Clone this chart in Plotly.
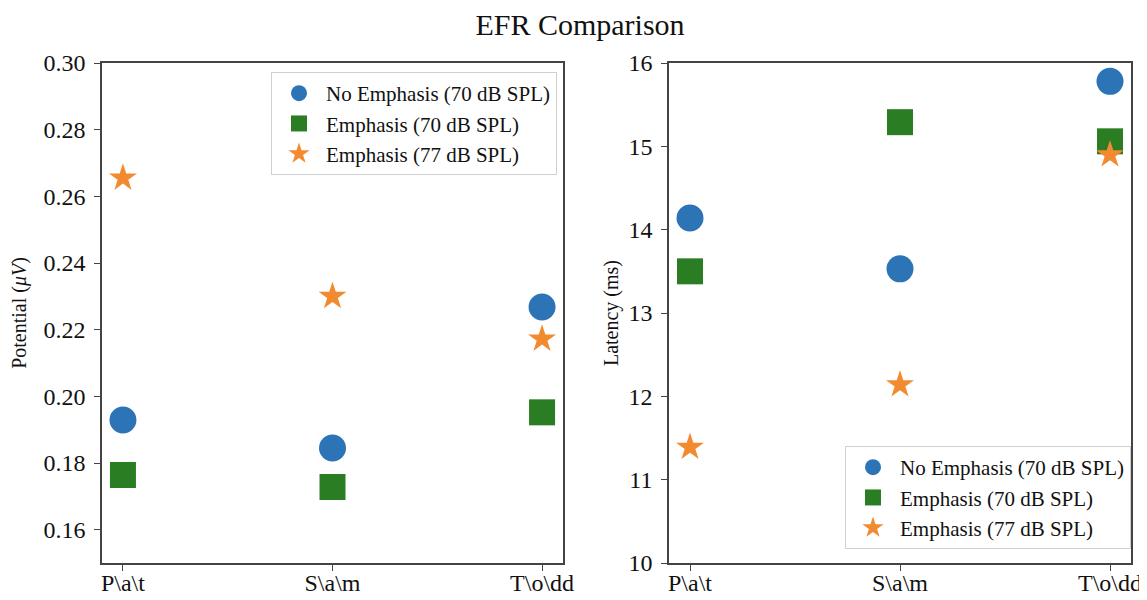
import plotly.graph_objects as go
from plotly.subplots import make_subplots

categories = ["P\\a\\t", "S\\a\\m", "T\\o\\dd"]
series_names = ["No Emphasis (70 dB SPL)", "Emphasis (70 dB SPL)", "Emphasis (77 dB SPL)"]

potential_no_emph_70 = [0.1929, 0.1845, 0.2268]
potential_emph_70 = [0.1764, 0.1728, 0.1952]
potential_emph_77 = [0.2655, 0.2300, 0.2172]

latency_no_emph_70 = [14.14, 13.53, 15.78]
latency_emph_70 = [13.50, 15.29, 15.06]
latency_emph_77 = [11.39, 12.14, 14.90]

colors = ["#2c74b5", "#2a7d22", "#f28b30"]
symbols = ["circle", "square", "star"]
sizes = [27, 26, 21]

FONT = "Liberation Serif, Times New Roman, serif"

# page body adds an 8px offset; figure is sized to fill the rest of the window
OFF = 8
W, H = 1147 - OFF, 600 - OFF


def px(x):
    return (x - OFF) / W


def py(y):
    return 1 - (y - OFF) / H


fig = make_subplots(rows=1, cols=2)

left_series = [potential_no_emph_70, potential_emph_70, potential_emph_77]
right_series = [latency_no_emph_70, latency_emph_70, latency_emph_77]

for i, (name, vals) in enumerate(zip(series_names, left_series)):
    fig.add_trace(go.Scatter(
        x=categories, y=vals, mode="markers", name=name,
        marker=dict(symbol=symbols[i], size=sizes[i], color=colors[i], line=dict(width=0)),
        legend="legend", legendgroup=f"l{i}", showlegend=True,
    ), row=1, col=1)

for i, (name, vals) in enumerate(zip(series_names, right_series)):
    fig.add_trace(go.Scatter(
        x=categories, y=vals, mode="markers", name=name,
        marker=dict(symbol=symbols[i], size=sizes[i], color=colors[i], line=dict(width=0)),
        legend="legend2", legendgroup=f"r{i}", showlegend=True,
    ), row=1, col=2)

axis_common = dict(
    showline=True, mirror=True, linecolor="#444444", linewidth=1.5,
    ticks="outside", ticklen=6, tickwidth=1.2, tickcolor="#444444",
    showgrid=False, zeroline=False, automargin=False,
    tickfont=dict(family=FONT, size=24, color="#111111"),
)

fig.update_xaxes(**axis_common, type="category", categoryorder="array",
                 categoryarray=categories, range=[-0.1, 2.1], ticklabelstandoff=-9)
fig.update_yaxes(**axis_common, ticklabelstandoff=4)

fig.update_xaxes(domain=[px(102), px(563)], row=1, col=1)
fig.update_xaxes(domain=[px(669), px(1131)], row=1, col=2)
fig.update_yaxes(domain=[py(563), py(63)])

fig.update_yaxes(range=[0.15, 0.30], tickvals=[0.16, 0.18, 0.20, 0.22, 0.24, 0.26, 0.28, 0.30],
                 ticktext=["0.16", "0.18", "0.20", "0.22", "0.24", "0.26", "0.28", "0.30"],
                 title=dict(text="Potential (<i>μV</i>)", font=dict(family=FONT, size=20, color="#111111"), standoff=12),
                 row=1, col=1)
fig.update_yaxes(range=[10, 16], tickvals=[10, 11, 12, 13, 14, 15, 16],
                 title=dict(text="Latency (ms)", font=dict(family=FONT, size=20, color="#111111"), standoff=4),
                 row=1, col=2)

legend_common = dict(
    font=dict(family=FONT, size=21, color="#111111"),
    bgcolor="rgba(255,255,255,0.9)", bordercolor="#d0d0d0", borderwidth=1,
    tracegroupgap=0, itemsizing="trace", itemwidth=44,
)

fig.update_layout(
    width=W, height=H,
    margin=dict(l=0, r=0, t=0, b=0),
    paper_bgcolor="white", plot_bgcolor="white",
    font=dict(family=FONT, color="#111111"),
    title=dict(text="EFR Comparison", x=px(580), xanchor="center", y=py(14), yanchor="top",
               font=dict(family=FONT, size=30, color="#111111")),
    legend=dict(**legend_common, x=px(557), xanchor="right", y=py(72), yanchor="top"),
    legend2=dict(**legend_common, x=px(1131), xanchor="right", y=py(549), yanchor="bottom"),
)

fig.write_html("out.html")
